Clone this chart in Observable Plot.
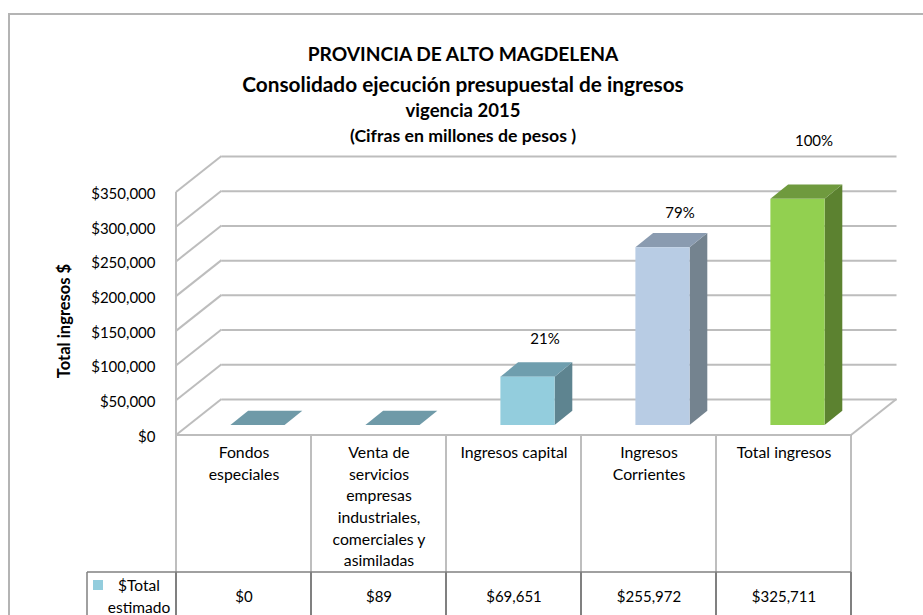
<!DOCTYPE html>
<html lang="es">
<head>
<meta charset="utf-8">
<script src="https://cdn.jsdelivr.net/npm/d3@7"></script>
<script src="https://cdn.jsdelivr.net/npm/@observablehq/plot@0.6"></script>
<style>
html,body{margin:0;padding:0;background:#fff;overflow:hidden}
#page{position:relative;width:923px;height:615px;overflow:hidden;font-family:Lato,sans-serif;color:#000}
#frame{position:absolute;left:8px;top:13px;right:0;bottom:0;border-left:2px solid #b4b4b4;border-top:2px solid #b4b4b4}
#title{position:absolute;left:0;width:926px;top:0;text-align:center;font-weight:700}
#title div{position:absolute;left:0;right:0;white-space:nowrap}
#legend{position:absolute;left:87px;top:572px;width:89px;height:43px;font-size:15.5px}
#legend i{position:absolute;left:6px;top:8px;width:10px;height:10px}
#legend span{position:absolute;white-space:nowrap;transform:translateX(-50%)}
#chart{position:absolute;left:0;top:0}
</style>
</head>
<body>
<div id="page">
  <div id="frame"></div>
  <div id="chart"></div>
  <div id="title"></div>
  <div id="legend"></div>
</div>
<script>
const titleLines = [
  "PROVINCIA DE ALTO MAGDELENA",
  "Consolidado ejecución presupuestal de ingresos",
  "vigencia 2015",
  "(Cifras en millones de pesos )"
];
const categories = [
  "Fondos\nespeciales",
  "Venta de\nservicios\nempresas\nindustriales,\ncomerciales y\nasimiladas",
  "Ingresos capital",
  "Ingresos\nCorrientes",
  "Total ingresos"
];
const values = [0, 89, 69651, 255972, 325711];
const valueLabels = ["$0", "$89", "$69,651", "$255,972", "$325,711"];
const shareLabels = ["", "", "21%", "79%", "100%"];
const frontColors = ["#93cddd", "#93cddd", "#93cddd", "#b8cce4", "#92d050"];
const topColors = ["#6f9aa8", "#6f9aa8", "#6f9eae", "#8a9bb0", "#6f9a3e"];
const sideColors = ["#5e8490", "#5e8490", "#5e8490", "#74838f", "#5c8230"];
const yTicks = [0, 50000, 100000, 150000, 200000, 250000, 300000, 350000];
const seriesName = ["$Total", "estimado"];
const yTitle = "Total ingresos $";

const rows = categories.map((category, i) => ({
  category, value: values[i], valueLabel: valueLabels[i], share: shareLabels[i],
  front: frontColors[i], top: topColors[i], side: sideColors[i]
}));

// 3-D look: offsets of the back wall and of the bars inside the box
const wall = {dx: 45.5, dy: -36};
const barPos = {dx: 14, dy: -10};
const barDepth = {dx: 17.7, dy: -14.3};
const barInset = 40.4;

const lineColor = "#bdbdbd";
const tableLight = "#a8a8a8";
const tableDark = "#808080";
const FS = 15;

function svgEl(name, attrs) {
  const n = document.createElementNS("http://www.w3.org/2000/svg", name);
  for (const k in attrs) n.setAttribute(k, attrs[k]);
  return n;
}

// Diagonals of the left wall and of the floor, read through the y scale
function wallMark(index, {y}, vals, {width, height, marginLeft, marginRight}) {
  const g = svgEl("g", {fill: "none", stroke: lineColor, "stroke-width": 2});
  for (const t of yTicks) {
    g.append(svgEl("line", {x1: marginLeft, y1: y(t), x2: marginLeft + wall.dx, y2: y(t) + wall.dy}));
  }
  const xr = width - marginRight;
  g.append(svgEl("line", {x1: xr, y1: y(0), x2: xr + wall.dx, y2: y(0) + wall.dy}));
  return g;
}

// Top and side faces of the bars
function facesMark(index, {x, y}, vals, {width, marginLeft, marginRight}) {
  const bw = (width - marginLeft - marginRight) / categories.length;
  const g = svgEl("g", {});
  for (const r of rows) {
    const xl = x(r.category) + barInset + barPos.dx;
    const xr = x(r.category) + bw - barInset + barPos.dx;
    const y1 = y(r.value) + barPos.dy;
    const y0 = y(0) + barPos.dy;
    const d = barDepth;
    if (r.value > 1000) {
      g.append(svgEl("polygon", {fill: r.side,
        points: [[xr, y1], [xr + d.dx, y1 + d.dy], [xr + d.dx, y0 + d.dy], [xr, y0]].join(" ")}));
    }
    g.append(svgEl("polygon", {fill: r.top,
      points: [[xl, y1], [xr, y1], [xr + d.dx, y1 + d.dy], [xl + d.dx, y1 + d.dy]].join(" ")}));
  }
  return g;
}

// Data table under the plot: grid lines
function tableMark(index, {x, y}, vals, {width, height, marginLeft, marginRight}) {
  const g = svgEl("g", {fill: "none"});
  const xr = width - marginRight;
  const rowY = 572;
  const edges = categories.map(c => x(c)).concat([xr]);
  for (const e of edges) {
    g.append(svgEl("line", {x1: e, x2: e, y1: y(0), y2: rowY, stroke: tableLight, "stroke-width": 1.5}));
    g.append(svgEl("line", {x1: e, x2: e, y1: rowY, y2: height, stroke: tableDark, "stroke-width": 2}));
  }
  g.append(svgEl("line", {x1: 87, x2: xr, y1: rowY, y2: rowY, stroke: tableDark, "stroke-width": 1.5}));
  g.append(svgEl("line", {x1: 87, x2: 87, y1: rowY, y2: height, stroke: tableDark, "stroke-width": 1.5}));
  g.append(svgEl("line", {x1: marginLeft, x2: xr, y1: y(0), y2: y(0), stroke: lineColor, "stroke-width": 2}));
  g.append(svgEl("line", {x1: marginLeft, x2: marginLeft, y1: y(350000), y2: y(0), stroke: lineColor, "stroke-width": 2}));
  return g;
}

const plot = Plot.plot({
  width: 923,
  height: 615,
  marginLeft: 176,
  marginRight: 72,
  marginTop: 192,
  marginBottom: 180,
  style: {fontFamily: "Lato, sans-serif", background: "transparent", color: "#000"},
  x: {domain: categories, padding: 0, label: null},
  y: {domain: [0, 350000], label: null},
  marks: [
    Plot.ruleY(yTicks, {dx: wall.dx, dy: wall.dy, stroke: lineColor, strokeWidth: 2}),
    wallMark,
    tableMark,
    Plot.axisY({
      ticks: yTicks, tickFormat: d3.format("$,.0f"), tickSize: 0, tickPadding: 21, dy: 1.5,
      fontSize: FS, label: null
    }),
    Plot.axisX({
      tickSize: 0, tickPadding: 7, fontSize: 15.8, lineHeight: 1.373, label: null, lineWidth: Infinity
    }),
    facesMark,
    Plot.barY(rows.filter(d => d.value > 1000), {
      x: "category", y: "value", fill: "front",
      insetLeft: barInset, insetRight: barInset, dx: barPos.dx, dy: barPos.dy
    }),
    Plot.text(rows.filter(d => d.share === "21%"), {x: "category", y: "value", text: "share", dx: 31, dy: -48, fontSize: FS}),
    Plot.text(rows.filter(d => d.share === "79%"), {x: "category", y: "value", text: "share", dx: 31, dy: -45, fontSize: FS}),
    Plot.text(rows.filter(d => d.share === "100%"), {x: "category", y: "value", text: "share", dx: 30, dy: -68, fontSize: FS}),
    Plot.text(rows, {x: "category", text: "valueLabel", frameAnchor: "bottom", dy: 166, fontSize: FS}),
    Plot.text([yTitle], {text: d => d, frameAnchor: "left", textAnchor: "middle", rotate: -90, dx: -112, dy: 7, fontSize: 16.5, fontWeight: 700})
  ]
});
document.getElementById("chart").append(plot);

// Title block
const titleStyles = [
  {top: 42, size: 19.2}, {top: 70.5, size: 20.8}, {top: 99, size: 18.5}, {top: 124.5, size: 17.7}
];
titleLines.forEach((t, i) => {
  const d = document.createElement("div");
  d.textContent = t;
  d.style.top = titleStyles[i].top + "px";
  d.style.fontSize = titleStyles[i].size + "px";
  document.getElementById("title").append(d);
});

// Legend cell
const legend = document.getElementById("legend");
const sw = document.createElement("i");
sw.style.background = frontColors[0];
legend.append(sw);
seriesName.forEach((t, i) => {
  const s = document.createElement("span");
  s.textContent = t;
  s.style.left = "52px";
  s.style.top = (4 + i * 21.5) + "px";
  legend.append(s);
});
</script>
</body>
</html>
